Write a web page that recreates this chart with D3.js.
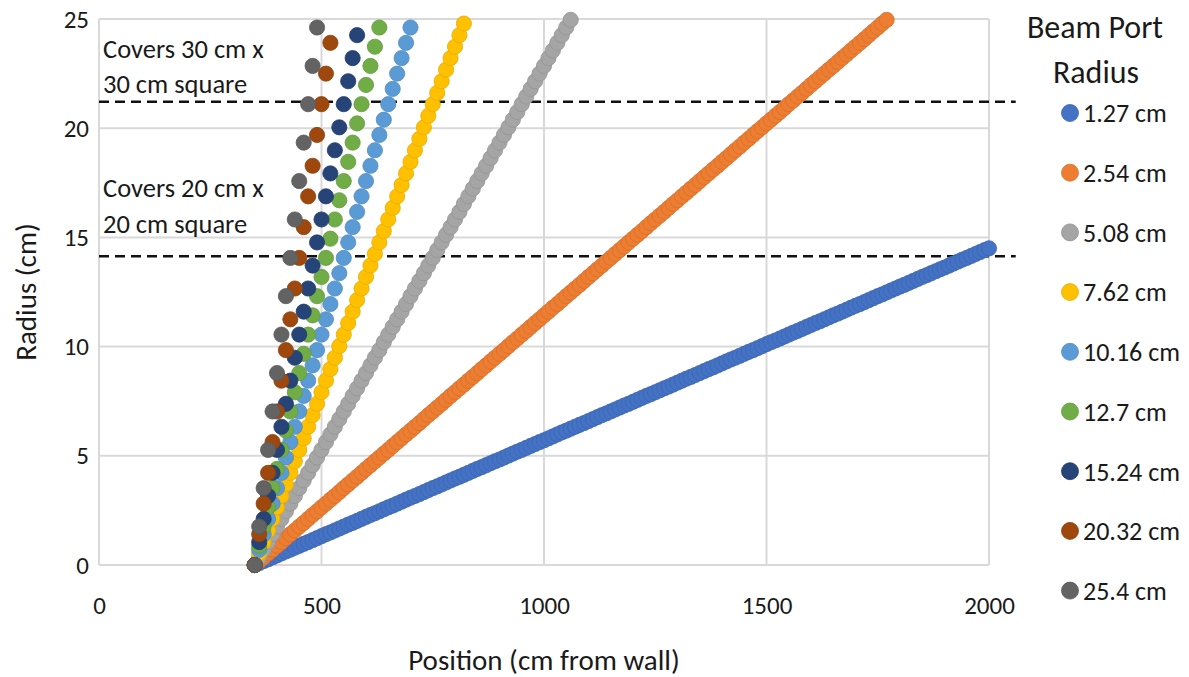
<!DOCTYPE html>
<html>
<head>
<meta charset="utf-8">
<script src="https://cdn.jsdelivr.net/npm/d3@7"></script>
<style>
    body { margin: 0; background: #fff; }
    svg text { font-family: Carlito, Lato, "Open Sans", sans-serif; fill: #1a1a1a; }
</style>
</head>
<body>
<svg id="chart" width="1189" height="677"></svg>
<script>
/*
 * Beam radius vs position, one dotted series per beam port radius
 */

// positions along the beam (cm from wall), shared by all series
var positions = [
    350, 360, 370, 380, 390, 400, 410, 420, 430, 440,
    450, 460, 470, 480, 490, 500, 510, 520, 530, 540,
    550, 560, 570, 580, 590, 600, 610, 620, 630, 640,
    650, 660, 670, 680, 690, 700, 710, 720, 730, 740,
    750, 760, 770, 780, 790, 800, 810, 820, 830, 840,
    850, 860, 870, 880, 890, 900, 910, 920, 930, 940,
    950, 960, 970, 980, 990, 1000, 1010, 1020, 1030, 1040,
    1050, 1060, 1070, 1080, 1090, 1100, 1110, 1120, 1130, 1140,
    1150, 1160, 1170, 1180, 1190, 1200, 1210, 1220, 1230, 1240,
    1250, 1260, 1270, 1280, 1290, 1300, 1310, 1320, 1330, 1340,
    1350, 1360, 1370, 1380, 1390, 1400, 1410, 1420, 1430, 1440,
    1450, 1460, 1470, 1480, 1490, 1500, 1510, 1520, 1530, 1540,
    1550, 1560, 1570, 1580, 1590, 1600, 1610, 1620, 1630, 1640,
    1650, 1660, 1670, 1680, 1690, 1700, 1710, 1720, 1730, 1740,
    1750, 1760, 1770, 1780, 1790, 1800, 1810, 1820, 1830, 1840,
    1850, 1860, 1870, 1880, 1890, 1900, 1910, 1920, 1930, 1940,
    1950, 1960, 1970, 1980, 1990, 2000
];

// beam radius (cm) at each position, per port radius
var r127 = [
    0, 0.09, 0.18, 0.26, 0.35, 0.44, 0.53, 0.62, 0.70, 0.79,
    0.88, 0.97, 1.05, 1.14, 1.23, 1.32, 1.41, 1.49, 1.58, 1.67,
    1.76, 1.85, 1.93, 2.02, 2.11, 2.20, 2.29, 2.37, 2.46, 2.55,
    2.64, 2.72, 2.81, 2.90, 2.99, 3.08, 3.16, 3.25, 3.34, 3.43,
    3.52, 3.60, 3.69, 3.78, 3.87, 3.96, 4.04, 4.13, 4.22, 4.31,
    4.40, 4.48, 4.57, 4.66, 4.75, 4.83, 4.92, 5.01, 5.10, 5.19,
    5.27, 5.36, 5.45, 5.54, 5.63, 5.71, 5.80, 5.89, 5.98, 6.07,
    6.15, 6.24, 6.33, 6.42, 6.50, 6.59, 6.68, 6.77, 6.86, 6.94,
    7.03, 7.12, 7.21, 7.30, 7.38, 7.47, 7.56, 7.65, 7.74, 7.82,
    7.91, 8.00, 8.09, 8.17, 8.26, 8.35, 8.44, 8.53, 8.61, 8.70,
    8.79, 8.88, 8.97, 9.05, 9.14, 9.23, 9.32, 9.41, 9.49, 9.58,
    9.67, 9.76, 9.84, 9.93, 10.02, 10.11, 10.20, 10.28, 10.37, 10.46,
    10.55, 10.64, 10.72, 10.81, 10.90, 10.99, 11.08, 11.16, 11.25, 11.34,
    11.43, 11.51, 11.60, 11.69, 11.78, 11.87, 11.95, 12.04, 12.13, 12.22,
    12.31, 12.39, 12.48, 12.57, 12.66, 12.75, 12.83, 12.92, 13.01, 13.10,
    13.19, 13.27, 13.36, 13.45, 13.54, 13.62, 13.71, 13.80, 13.89, 13.98,
    14.06, 14.15, 14.24, 14.33, 14.42, 14.50
];
var r254 = [
    0, 0.18, 0.35, 0.53, 0.70, 0.88, 1.05, 1.23, 1.41, 1.58,
    1.76, 1.93, 2.11, 2.29, 2.46, 2.64, 2.81, 2.99, 3.16, 3.34,
    3.52, 3.69, 3.87, 4.04, 4.22, 4.40, 4.57, 4.75, 4.92, 5.10,
    5.27, 5.45, 5.63, 5.80, 5.98, 6.15, 6.33, 6.50, 6.68, 6.86,
    7.03, 7.21, 7.38, 7.56, 7.74, 7.91, 8.09, 8.26, 8.44, 8.61,
    8.79, 8.97, 9.14, 9.32, 9.49, 9.67, 9.84, 10.02, 10.20, 10.37,
    10.55, 10.72, 10.90, 11.08, 11.25, 11.43, 11.60, 11.78, 11.95, 12.13,
    12.31, 12.48, 12.66, 12.83, 13.01, 13.19, 13.36, 13.54, 13.71, 13.89,
    14.06, 14.24, 14.42, 14.59, 14.77, 14.94, 15.12, 15.29, 15.47, 15.65,
    15.82, 16.00, 16.17, 16.35, 16.53, 16.70, 16.88, 17.05, 17.23, 17.40,
    17.58, 17.76, 17.93, 18.11, 18.28, 18.46, 18.63, 18.81, 18.99, 19.16,
    19.34, 19.51, 19.69, 19.87, 20.04, 20.22, 20.39, 20.57, 20.74, 20.92,
    21.10, 21.27, 21.45, 21.62, 21.80, 21.98, 22.15, 22.33, 22.50, 22.68,
    22.85, 23.03, 23.21, 23.38, 23.56, 23.73, 23.91, 24.08, 24.26, 24.44,
    24.61, 24.79, 24.96
];
var r508 = [
    0, 0.35, 0.70, 1.05, 1.41, 1.76, 2.11, 2.46, 2.81, 3.16,
    3.52, 3.87, 4.22, 4.57, 4.92, 5.27, 5.63, 5.98, 6.33, 6.68,
    7.03, 7.38, 7.74, 8.09, 8.44, 8.79, 9.14, 9.49, 9.84, 10.20,
    10.55, 10.90, 11.25, 11.60, 11.95, 12.31, 12.66, 13.01, 13.36, 13.71,
    14.06, 14.42, 14.77, 15.12, 15.47, 15.82, 16.17, 16.53, 16.88, 17.23,
    17.58, 17.93, 18.28, 18.63, 18.99, 19.34, 19.69, 20.04, 20.39, 20.74,
    21.10, 21.45, 21.80, 22.15, 22.50, 22.85, 23.21, 23.56, 23.91, 24.26,
    24.61, 24.96
];
var r762 = [
    0, 0.53, 1.05, 1.58, 2.11, 2.64, 3.16, 3.69, 4.22, 4.75,
    5.27, 5.80, 6.33, 6.86, 7.38, 7.91, 8.44, 8.97, 9.49, 10.02,
    10.55, 11.08, 11.60, 12.13, 12.66, 13.19, 13.71, 14.24, 14.77, 15.29,
    15.82, 16.35, 16.88, 17.40, 17.93, 18.46, 18.99, 19.51, 20.04, 20.57,
    21.10, 21.62, 22.15, 22.68, 23.21, 23.73, 24.26, 24.79
];
var r1016 = [
    0, 0.70, 1.41, 2.11, 2.81, 3.52, 4.22, 4.92, 5.63, 6.33,
    7.03, 7.74, 8.44, 9.14, 9.84, 10.55, 11.25, 11.95, 12.66, 13.36,
    14.06, 14.77, 15.47, 16.17, 16.88, 17.58, 18.28, 18.99, 19.69, 20.39,
    21.10, 21.80, 22.50, 23.21, 23.91, 24.61
];
var r1270 = [
    0, 0.88, 1.76, 2.64, 3.52, 4.40, 5.27, 6.15, 7.03, 7.91,
    8.79, 9.67, 10.55, 11.43, 12.31, 13.19, 14.06, 14.94, 15.82, 16.70,
    17.58, 18.46, 19.34, 20.22, 21.10, 21.98, 22.85, 23.73, 24.61
];
var r1524 = [
    0, 1.05, 2.11, 3.16, 4.22, 5.27, 6.33, 7.38, 8.44, 9.49,
    10.55, 11.60, 12.66, 13.71, 14.77, 15.82, 16.88, 17.93, 18.99, 20.04,
    21.10, 22.15, 23.21, 24.26
];
var r2032 = [
    0, 1.41, 2.81, 4.22, 5.63, 7.03, 8.44, 9.84, 11.25, 12.66,
    14.06, 15.47, 16.88, 18.28, 19.69, 21.10, 22.50, 23.91
];
var r2540 = [
    0, 1.76, 3.52, 5.27, 7.03, 8.79, 10.55, 12.31, 14.06, 15.82,
    17.58, 19.34, 21.10, 22.85, 24.61
];

var seriesNames = ["1.27 cm", "2.54 cm", "5.08 cm", "7.62 cm", "10.16 cm",
                   "12.7 cm", "15.24 cm", "20.32 cm", "25.4 cm"];
var seriesValues = [r127, r254, r508, r762, r1016, r1270, r1524, r2032, r2540];
var seriesColors = ["#4472C4", "#ED7D31", "#A5A5A5", "#FFC000", "#5B9BD5",
                    "#70AD47", "#264478", "#9E480E", "#636363"];

var xTicks = [0, 500, 1000, 1500, 2000];
var yTicks = [0, 5, 10, 15, 20, 25];

// reference lines: half diagonals of the 30 cm and 20 cm squares
var refLevels = [21.21, 14.14];
var refExtent = [0, 2060];
var refLabels = [["Covers 30 cm x", "30 cm square"], ["Covers 20 cm x", "20 cm square"]];
var refLabelLevels = [[23.2, 21.6], [16.85, 15.2]];   // baselines, in radius units


/* ==========================================================================
 * Chart
 * ========================================================================== */

var svg = d3.select("#chart");

var x = d3.scaleLinear().domain([0, 2000]).range([99, 989]);
var y = d3.scaleLinear().domain([0, 25]).range([565, 19]);

function drawGrid() {
    var g = svg.append("g").attr("class", "grid");
    g.selectAll("line.h").data(yTicks).enter().append("line")
        .attr("x1", x(0)).attr("x2", x(2000))
        .attr("y1", function(d) { return y(d); })
        .attr("y2", function(d) { return y(d); })
        .attr("stroke", "#d9d9d9").attr("stroke-width", 2);
    g.selectAll("line.v").data(xTicks).enter().append("line")
        .attr("y1", y(0)).attr("y2", y(25))
        .attr("x1", function(d) { return x(d); })
        .attr("x2", function(d) { return x(d); })
        .attr("stroke", "#d9d9d9").attr("stroke-width", 2);
}

function drawAxes() {
    var xAxis = d3.axisBottom(x).tickValues(xTicks).tickFormat(d3.format("d"))
        .tickSize(0).tickPadding(31);
    var gx = svg.append("g").attr("transform", "translate(0," + y(0) + ")").call(xAxis);
    gx.select(".domain").remove();
    gx.selectAll("text").style("font-size", "25px");

    var yAxis = d3.axisLeft(y).tickValues(yTicks).tickSize(0).tickPadding(10);
    var gy = svg.append("g").attr("transform", "translate(" + x(0) + ",0)").call(yAxis);
    gy.select(".domain").remove();
    gy.selectAll("text").style("font-size", "25px");

    svg.append("text")
        .attr("x", (x(0) + x(2000)) / 2).attr("y", 670)
        .attr("text-anchor", "middle").style("font-size", "29px")
        .text("Position (cm from wall)");
    svg.append("text")
        .attr("transform", "translate(36," + y(12.5) + ") rotate(-90)")
        .attr("text-anchor", "middle").style("font-size", "29px")
        .text("Radius (cm)");
}

function drawReferenceLines() {
    refLevels.forEach(function(level, i) {
        svg.append("line")
            .attr("x1", x(refExtent[0])).attr("x2", x(refExtent[1]))
            .attr("y1", y(level)).attr("y2", y(level))
            .attr("stroke", "#111").attr("stroke-width", 2.5)
            .attr("stroke-dasharray", "10,6");
        refLabels[i].forEach(function(t, j) {
            svg.append("text")
                .attr("x", x(0) + 4)
                .attr("y", y(refLabelLevels[i][j]))
                .style("font-size", "26.5px")
                .text(t);
        });
    });
}

function drawSeries() {
    seriesValues.forEach(function(values, s) {
        var pts = values.map(function(r, i) { return [positions[i], r]; });
        svg.append("g").selectAll("circle").data(pts).enter().append("circle")
            .attr("cx", function(d) { return x(d[0]); })
            .attr("cy", function(d) { return y(d[1]); })
            .attr("r", 7.6)
            .attr("fill", seriesColors[s])
            .attr("stroke", d3.color(seriesColors[s]).darker(0.3))
            .attr("stroke-width", 0.8);
    });
}

function drawLegend() {
    var lg = svg.append("g");
    lg.append("text").attr("x", 1095).attr("y", 38).attr("text-anchor", "middle")
        .style("font-size", "32px").text("Beam Port");
    lg.append("text").attr("x", 1096).attr("y", 83).attr("text-anchor", "middle")
        .style("font-size", "32px").text("Radius");
    var item = lg.selectAll("g.item").data(seriesNames).enter().append("g")
        .attr("transform", function(d, i) { return "translate(1070," + (113 + i * 59.7) + ")"; });
    item.append("circle").attr("r", 8.5)
        .attr("fill", function(d, i) { return seriesColors[i]; })
        .attr("stroke", function(d, i) { return d3.color(seriesColors[i]).darker(0.3); })
        .attr("stroke-width", 0.8);
    item.append("text").attr("x", 13).attr("dy", "0.36em")
        .style("font-size", "26px")
        .text(function(d) { return d; });
}

drawGrid();
drawAxes();
drawReferenceLines();
drawSeries();
drawLegend();
</script>
</body>
</html>
